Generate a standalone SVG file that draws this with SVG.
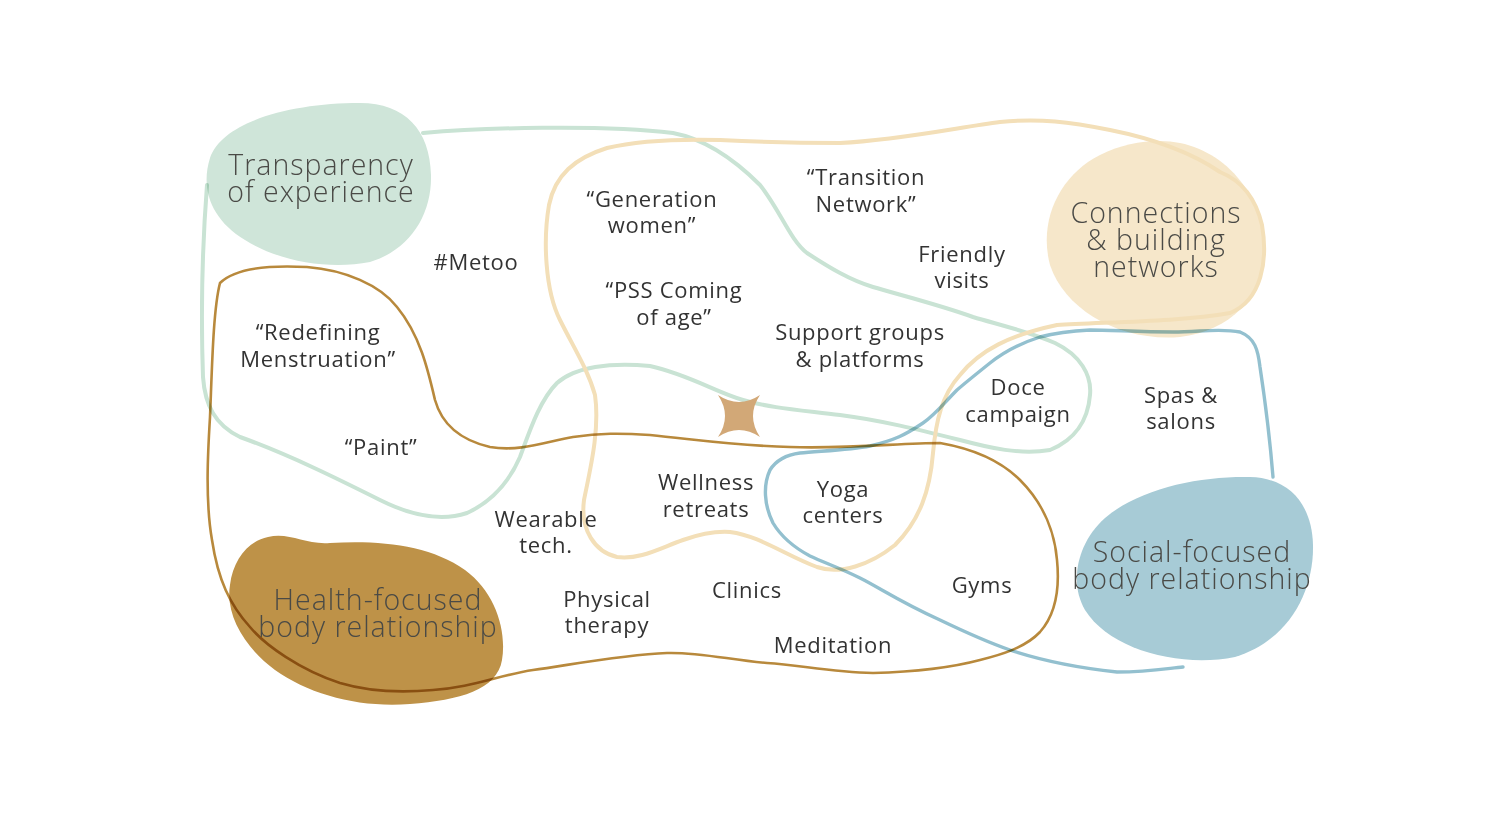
<svg xmlns="http://www.w3.org/2000/svg" width="1500" height="821" viewBox="0 0 1500 821">
<style>
.cat{font-family:"Open Sans","Liberation Sans",sans-serif;font-weight:300;font-size:28.5px;letter-spacing:1px;fill:#4a4a46;text-anchor:middle}
.it{font-family:"Open Sans","Liberation Sans",sans-serif;font-weight:400;font-size:22px;letter-spacing:0.7px;fill:#333;text-anchor:middle}
.ln{fill:none;stroke-linecap:round;stroke-linejoin:round;mix-blend-mode:multiply}
.g{stroke:#c9e3d4;stroke-width:4}
.c{stroke:#f3dfb8;stroke-width:4;mix-blend-mode:normal}
.b{stroke:#b8893c;stroke-width:2.6}
.s{stroke:#93c0cf;stroke-width:3.4}
</style>
<rect width="1500" height="821" fill="#fff"/>
<g id="blobs">
<g id="transparency">
<path d="M360,103 C405,103 430,130 431,175 C432,215 410,250 370,262 C330,270 280,262 245,240 C212,220 200,190 210,158 C222,122 290,103 360,103 Z" fill="#cfe5d9"/>
</g>
<g id="connections">
<path d="M1160,141 C1215,141 1258,185 1265,240 C1270,290 1235,330 1180,337 C1120,342 1065,310 1050,265 C1038,220 1060,175 1100,155 C1120,145 1140,141 1160,141 Z" fill="#f6e7ca"/>
</g>
<g id="health">
<path d="M268,537 C290,532 305,545 330,543 C380,540 430,545 465,570 C495,592 507,630 502,660 C497,690 460,700 410,704 C360,708 310,695 275,670 C245,648 225,615 230,585 C233,560 248,541 268,537 Z" fill="#be9248"/>
</g>
<g id="social">
<path d="M1250,477 C1290,478 1312,505 1313,545 C1314,590 1290,640 1235,657 C1180,668 1110,650 1085,610 C1070,585 1075,545 1105,518 C1140,488 1200,476 1250,477 Z" fill="#a7cbd6"/>
</g>
</g>
<g id="connectors">
<path class="ln g" d="M423,133 C480,128 600,124 673,133 C710,140 740,165 760,185 C780,210 790,240 807,253 C830,268 850,280 873,287 C900,295 940,305 973,317 C1000,325 1030,332 1055,343 C1080,355 1092,375 1090,395 C1088,420 1075,440 1050,450 C1020,455 990,448 960,440 C920,430 880,420 840,415 C800,410 770,408 743,400 C715,392 690,375 650,366 C610,362 575,367 557,383 C540,400 530,430 520,457 C510,480 495,500 467,513 C440,522 410,515 380,500 C340,480 290,455 240,437 C215,425 205,405 203,377 C201,320 202,250 207,185"/>
<path class="ln c" d="M1057,325 C1100,322 1180,322 1230,313 C1262,300 1268,260 1262,225 C1255,195 1240,180 1220,172 C1195,155 1160,140 1110,130 C1070,122 1040,118 1000,122 C960,127 900,140 840,143 C800,143 760,142 720,140 C680,139 640,140 607,148 C575,158 555,175 549,205 C543,240 545,290 560,320 C575,350 588,370 595,395 C600,430 590,470 584,500 C580,530 595,552 617,557 C640,560 660,548 683,540 C700,534 715,531 730,532 C760,536 785,555 817,567 C840,575 870,565 895,545 C920,520 930,490 933,453 C936,420 942,395 960,375 C980,350 1010,335 1057,325 Z"/>
<path class="ln b" d="M220,283 C235,268 270,265 307,267 C345,270 380,285 397,307 C420,335 428,370 435,400 C442,425 460,440 490,447 C520,452 545,442 573,437 C600,433 620,433 650,435 C700,440 740,446 790,447 C850,449 900,443 940,443 C980,450 1005,465 1020,480 C1045,505 1055,535 1057,560 C1060,590 1055,615 1040,632 C1025,648 1000,655 980,660 C950,668 910,672 873,673 C830,672 800,665 767,663 C730,660 700,652 667,653 C620,655 570,665 533,670 C500,675 470,688 433,690 C400,693 370,692 340,683 C300,670 265,645 250,627 C230,605 218,580 212,540 C205,500 208,450 210,417 C212,370 213,310 220,283 Z"/>
<path class="ln s" d="M1273,477 C1270,440 1265,400 1260,367 C1258,350 1255,338 1240,332 C1220,328 1200,332 1173,332 C1140,332 1110,330 1090,330 C1070,331 1055,333 1040,337 C1015,345 1000,355 990,363 C975,375 965,383 957,390 C945,402 935,415 923,423 C905,435 895,440 870,446 C850,450 820,451 800,453 C785,455 775,462 770,470 C763,485 764,505 773,523 C782,538 795,548 810,556 C825,563 840,568 860,578 C880,588 900,602 940,620 C965,632 990,643 1010,650 C1040,660 1080,668 1117,672 C1150,672 1170,668 1183,667"/>
</g>
<g id="star">
<path d="M718,395 Q739,409 760,395 Q746,416 760,437 Q739,423 718,437 Q732,416 718,395 Z" fill="#d2a877"/>
</g>
<g id="category-labels">
<text class="cat" x="321" y="175">Transparency</text>
<text class="cat" x="321" y="202">of experience</text>
<text class="cat" x="1156" y="223">Connections</text>
<text class="cat" x="1156" y="250">&amp; building</text>
<text class="cat" x="1156" y="277">networks</text>
<text class="cat" x="378" y="610">Health-focused</text>
<text class="cat" x="378" y="637">body relationship</text>
<text class="cat" x="1192" y="562">Social-focused</text>
<text class="cat" x="1192" y="589">body relationship</text>
</g>
<g id="metoo"><text class="it" x="476" y="270">#Metoo</text></g>
<g id="redefining"><text class="it" x="318" y="340">“Redefining</text><text class="it" x="318" y="367">Menstruation”</text></g>
<g id="paint"><text class="it" x="381" y="455">“Paint”</text></g>
<g id="generation"><text class="it" x="652" y="207">“Generation</text><text class="it" x="652" y="233">women”</text></g>
<g id="pss"><text class="it" x="674" y="298">“PSS Coming</text><text class="it" x="674" y="325">of age”</text></g>
<g id="transition"><text class="it" x="866" y="185">“Transition</text><text class="it" x="866" y="212">Network”</text></g>
<g id="friendly"><text class="it" x="962" y="262">Friendly</text><text class="it" x="962" y="288">visits</text></g>
<g id="support"><text class="it" x="860" y="340">Support groups</text><text class="it" x="860" y="367">&amp; platforms</text></g>
<g id="doce"><text class="it" x="1018" y="395">Doce</text><text class="it" x="1018" y="422">campaign</text></g>
<g id="spas"><text class="it" x="1181" y="403">Spas &amp;</text><text class="it" x="1181" y="429">salons</text></g>
<g id="yoga"><text class="it" x="843" y="497">Yoga</text><text class="it" x="843" y="523">centers</text></g>
<g id="wellness"><text class="it" x="706" y="490">Wellness</text><text class="it" x="706" y="517">retreats</text></g>
<g id="wearable"><text class="it" x="546" y="527">Wearable</text><text class="it" x="546" y="553">tech.</text></g>
<g id="physical"><text class="it" x="607" y="607">Physical</text><text class="it" x="607" y="633">therapy</text></g>
<g id="clinics"><text class="it" x="747" y="598">Clinics</text></g>
<g id="meditation"><text class="it" x="833" y="653">Meditation</text></g>
<g id="gyms"><text class="it" x="982" y="593">Gyms</text></g>
</svg>
